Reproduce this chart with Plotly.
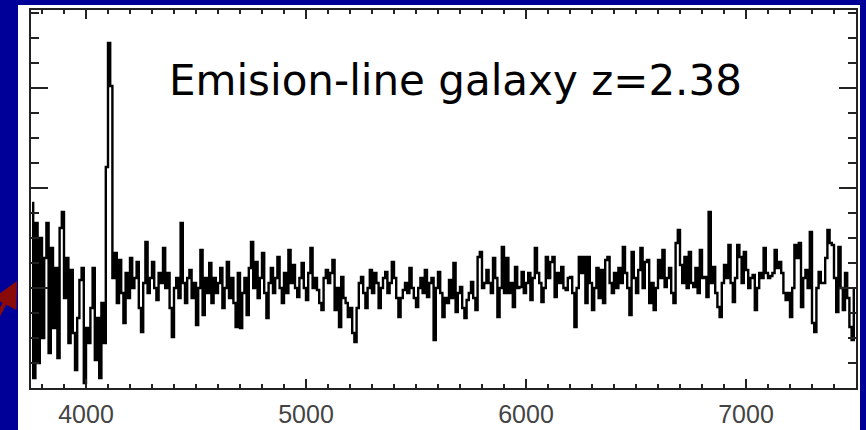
import numpy as np
import plotly.graph_objects as go

# Spectrum sampling grid (Angstrom) and flux values
WAVE_START = 3755
WAVE_STEP = 10
flux = [
    1.85, 0.10, 1.65, 0.25, 1.50, 0.50, 1.30, 1.65, 0.35, 1.40,
    0.60, 1.20, 0.30, 1.60, 1.76, 0.90, 1.30, 0.45, 1.18, 0.55,
    0.18, 0.70, 1.08, 1.20, 0.05, 0.60, 0.45, 0.80, 1.20, 0.28,
    0.70, 0.10, 0.85, 0.45, 2.21, 3.45, 3.02, 1.10, 1.35, 0.85,
    1.28, 0.95, 0.65, 1.15, 0.90, 1.30, 1.00, 1.10, 1.26, 0.80,
    0.56, 1.05, 1.46, 0.95, 1.10, 1.26, 1.00, 0.88, 1.15, 1.05,
    1.40, 1.00, 1.15, 0.80, 0.51, 1.00, 1.10, 0.90, 1.65, 1.05,
    0.85, 1.10, 1.18, 0.90, 1.05, 0.63, 1.00, 1.38, 0.73, 1.10,
    0.95, 1.25, 0.85, 1.10, 0.95, 1.05, 1.20, 0.80, 1.00, 1.26,
    0.90, 1.10, 0.85, 0.61, 1.15, 0.60, 0.95, 1.10, 0.73, 1.20,
    1.46, 1.00, 1.26, 0.90, 1.10, 1.35, 0.95, 0.70, 1.05, 1.20,
    0.95, 1.10, 1.31, 1.00, 0.85, 1.15, 0.95, 1.38, 1.05, 1.23,
    1.00, 0.91, 1.10, 1.25, 1.00, 0.88, 1.15, 1.40, 1.00, 1.10,
    0.98, 0.85, 0.78, 1.10, 1.18, 1.05, 1.15, 1.28, 0.78, 1.00,
    0.61, 1.11, 0.90, 0.85, 0.71, 0.80, 0.55, 0.46, 0.80, 1.05,
    1.11, 0.95, 0.80, 1.00, 1.18, 0.95, 1.15, 1.05, 0.80, 1.00,
    1.10, 1.16, 0.95, 1.05, 1.26, 1.10, 0.90, 0.71, 0.90, 0.98,
    1.05, 0.95, 1.20, 1.00, 0.90, 0.81, 1.00, 1.10, 0.95, 1.18,
    0.91, 1.05, 1.10, 0.48, 1.00, 1.16, 0.95, 0.71, 0.90, 0.85,
    1.08, 0.90, 1.25, 0.76, 0.95, 1.01, 0.80, 0.70, 0.88, 0.95,
    1.06, 0.90, 0.78, 1.31, 1.36, 1.00, 1.05, 1.18, 1.05, 0.95,
    1.30, 1.10, 0.71, 1.00, 1.41, 0.95, 1.30, 0.95, 1.05, 0.81,
    1.21, 1.00, 1.01, 1.16, 0.95, 1.05, 1.15, 0.88, 1.10, 1.40,
    1.15, 1.05, 0.86, 1.00, 1.31, 1.10, 1.26, 1.31, 0.91, 1.15,
    1.05, 1.21, 1.00, 0.98, 1.10, 1.11, 0.95, 0.61, 1.00, 1.31,
    1.15, 1.31, 0.85, 1.31, 1.05, 0.78, 1.00, 1.20, 0.90, 1.18,
    0.85, 1.28, 1.31, 1.05, 0.95, 1.15, 1.00, 1.20, 1.05, 1.41,
    1.15, 1.00, 0.73, 1.36, 1.10, 0.95, 1.18, 1.40, 1.00, 1.26,
    1.28, 0.85, 1.05, 0.78, 1.00, 1.28, 1.10, 1.38, 1.01, 1.10,
    1.20, 0.95, 0.85, 1.45, 1.58, 1.23, 1.05, 1.31, 1.00, 1.36,
    1.05, 1.01, 1.20, 0.95, 1.38, 1.10, 1.11, 0.91, 1.76, 1.05,
    1.21, 0.95, 0.81, 0.71, 1.05, 1.23, 1.10, 1.43, 1.05, 0.86,
    1.10, 1.43, 1.31, 1.05, 1.36, 1.18, 1.00, 1.10, 1.13, 0.78,
    1.00, 1.15, 1.10, 1.40, 1.15, 1.10, 1.12, 1.15, 1.38, 1.20,
    1.26, 1.15, 0.95, 0.88, 0.95, 0.71, 1.00, 1.43, 1.30, 1.45,
    0.81, 1.10, 1.18, 1.00, 1.56, 0.65, 0.56, 1.00, 1.16, 1.05,
    1.05, 1.30, 1.58, 1.45, 1.43, 1.10, 0.76, 1.41, 1.00, 0.78,
    1.15, 0.90, 0.61, 0.48, 0.98,
]
wave = WAVE_START + WAVE_STEP * np.arange(len(flux))

x_tickvals = [4000, 5000, 6000, 7000]
x_ticktext = ["4000", "5000", "6000", "7000"]
title_text = "Emision-line galaxy z=2.38"

W, H = 866, 430
ML, MR, MT, MB = 31, 10, 10, 42
pw, ph = W - ML - MR, H - MT - MB

def px2paper_x(px):
    return (px - ML) / pw

def px2paper_y(py):
    return (H - MB - py) / ph

fig = go.Figure()
fig.add_trace(go.Scatter(
    x=wave, y=flux, mode="lines", line=dict(color="black", width=2.4, shape="hvh"),
    hoverinfo="skip", showlegend=False,
))

# white slide panel behind the plot
fig.add_shape(type="rect", xref="paper", yref="paper",
              x0=px2paper_x(18), x1=px2paper_x(860), y0=px2paper_y(440), y1=px2paper_y(5),
              fillcolor="white", line=dict(width=0), layer="below")

fig.add_annotation(xref="paper", yref="paper", x=px2paper_x(167), y=px2paper_y(80),
                   xanchor="left", yanchor="middle", text=title_text, showarrow=False,
                   font=dict(family="DejaVu Sans", size=42, color="black"))

# red arrow at left edge (shaft + head)
ARROW_RED = "#8a0a0a"
fig.add_shape(type="line", xref="paper", yref="paper",
              x0=px2paper_x(-2), y0=px2paper_y(316), x1=px2paper_x(11), y1=px2paper_y(291),
              line=dict(color=ARROW_RED, width=4), layer="above")
fig.add_annotation(xref="paper", yref="paper", x=px2paper_x(17), y=px2paper_y(281),
                   ax=-10, ay=19, text="", showarrow=True, arrowhead=2, arrowsize=1.3,
                   arrowwidth=4, arrowcolor=ARROW_RED)

fig.update_layout(
    width=W, height=H, margin=dict(l=ML, r=MR, t=MT, b=MB, autoexpand=False),
    paper_bgcolor="#000099", plot_bgcolor="white",
    xaxis=dict(range=[3750, 7500], tickvals=x_tickvals, ticktext=x_ticktext,
               ticks="inside", ticklen=9, tickwidth=2, tickcolor="#222",
               showline=True, linewidth=2, linecolor="#222", mirror="allticks",
               showgrid=False, zeroline=False, ticklabelstandoff=3, automargin=False,
               tickfont=dict(family="Liberation Sans", size=25, color="#444"),
               minor=dict(dtick=100, tick0=0, ticks="inside", ticklen=4, tickwidth=2, tickcolor="#222")),
    yaxis=dict(range=[0, 3.78], tickvals=[0, 1, 2, 3], showticklabels=False,
               ticks="inside", ticklen=17, tickwidth=2, tickcolor="#222",
               showline=True, linewidth=2, linecolor="#222", mirror="allticks",
               showgrid=False, zeroline=False, automargin=False,
               minor=dict(dtick=0.25, tick0=0, ticks="inside", ticklen=8, tickwidth=2, tickcolor="#222")),
)

fig.write_html("out.html")
